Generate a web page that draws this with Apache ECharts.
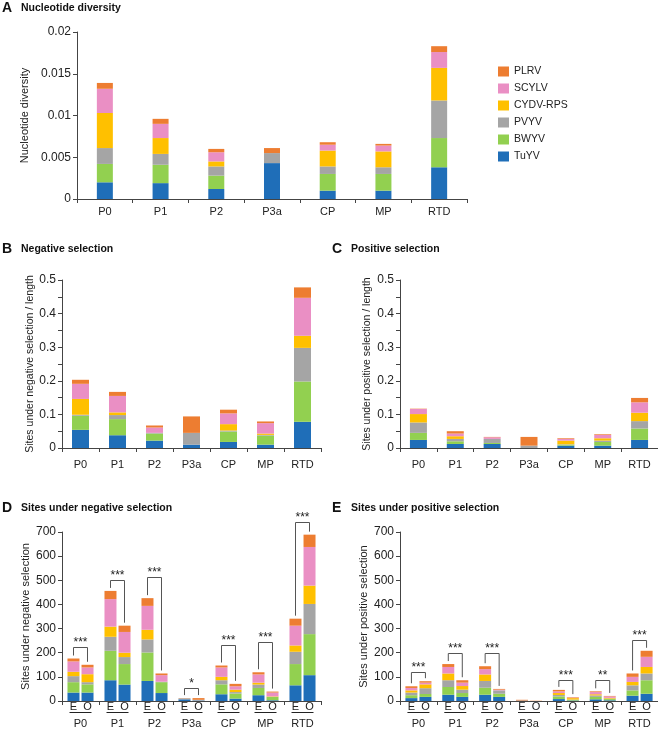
<!DOCTYPE html>
<html>
<head>
<meta charset="utf-8">
<script src="https://cdn.jsdelivr.net/npm/echarts@6/dist/echarts.min.js"></script>
<style>
  html, body { margin: 0; padding: 0; background: #fff; }
  #chart { width: 658px; height: 735px; }
</style>
</head>
<body>
<div id="chart"></div>
<script>
const cats = ['P0', 'P1', 'P2', 'P3a', 'CP', 'MP', 'RTD'];
const viruses = ['TuYV', 'BWYV', 'PVYV', 'CYDV-RPS', 'SCYLV', 'PLRV'];
const colors = ['#1f6eb8', '#92d050', '#a5a5a5', '#ffc000', '#ea8fc4', '#ed7d31'];

// every table below: one row per virus (same order as `viruses`), one column per gene
const diversity = [
  [0.0020, 0.0019, 0.0012, 0.0043, 0.0010, 0.0010, 0.0038],
  [0.0022, 0.0022, 0.0016, 0, 0.0020, 0.0020, 0.0035],
  [0.0019, 0.0013, 0.0011, 0.0012, 0.0009, 0.0008, 0.0045],
  [0.0042, 0.0019, 0.0006, 0, 0.0019, 0.0019, 0.0039],
  [0.0029, 0.0017, 0.0011, 0, 0.0007, 0.0007, 0.0019],
  [0.0007, 0.0006, 0.0004, 0.0006, 0.0003, 0.0002, 0.0007]
];
const negPerLength = [
  [0.054, 0.038, 0.022, 0.010, 0.018, 0.010, 0.078],
  [0.042, 0.048, 0.021, 0, 0.031, 0.027, 0.120],
  [0.003, 0.012, 0.002, 0.035, 0.003, 0.002, 0.100],
  [0.047, 0.008, 0, 0, 0.019, 0.004, 0.036],
  [0.045, 0.049, 0.016, 0, 0.032, 0.031, 0.113],
  [0.012, 0.012, 0.006, 0.049, 0.011, 0.005, 0.031]
];
const posPerLength = [
  [0.024, 0.012, 0.012, 0, 0.007, 0.007, 0.024],
  [0.021, 0.008, 0.003, 0, 0.003, 0.011, 0.034],
  [0.031, 0.007, 0.012, 0.007, 0.001, 0.004, 0.022],
  [0.025, 0.008, 0, 0, 0.011, 0.007, 0.025],
  [0.015, 0.008, 0.005, 0, 0.005, 0.010, 0.031],
  [0.001, 0.007, 0.001, 0.026, 0.002, 0.002, 0.013]
];
// E / O bars of panel D
const negSitesE = [
  [35, 86, 83, 7, 28, 24, 65],
  [43, 122, 118, 0, 41, 30, 88],
  [25, 58, 54, 4, 17, 14, 51],
  [18, 42, 40, 0, 14, 8, 26],
  [43, 114, 99, 0, 39, 34, 82],
  [12, 34, 32, 1, 8, 9, 29]
];
const negSitesO = [
  [35, 68, 33, 2, 10, 3, 107],
  [34, 85, 45, 0, 21, 14, 170],
  [9, 29, 2, 3, 6, 0, 125],
  [33, 18, 0, 0, 10, 2, 76],
  [28, 86, 27, 0, 14, 16, 160],
  [11, 26, 7, 7, 10, 4, 51]
];
// E / O bars of panel E
const posSitesE = [
  [12, 26, 26, 1, 8, 7, 22],
  [12, 32, 29, 0, 11, 10, 22],
  [11, 28, 28, 1, 6, 6, 21],
  [9, 28, 27, 0, 8, 5, 14],
  [10, 27, 22, 0, 7, 9, 21],
  [7, 12, 12, 3, 6, 3, 14]
];
const posSitesO = [
  [17, 17, 17, 0, 2, 3, 30],
  [12, 16, 13, 0, 3, 5, 56],
  [24, 14, 14, 0, 1, 2, 28],
  [16, 15, 0, 0, 6, 3, 27],
  [7, 14, 3, 0, 2, 6, 42],
  [6, 10, 3, 1, 2, 2, 25]
];
// significance brackets (height in axis units) and stars
const negBracket = [222, 502, 513, 55, 230, 244, 741];
const negStars = ['***', '***', '***', '*', '***', '***', '***'];
const posBracket = [122, 200, 200, null, 89, 89, 252];
const posStars = ['***', '***', '***', '', '***', '**', '***'];

const FONT = 'Liberation Sans, Arial, Helvetica, sans-serif';
const INK = '#222';
const AXIS = '#444';

const colSum = (rows, i) => rows.reduce((s, r) => s + r[i], 0);

const grids = [
  { left: 77, top: 32, width: 390, height: 167 },   // A
  { left: 62, top: 280, width: 259, height: 168 },  // B
  { left: 400, top: 280, width: 258, height: 168 }, // C
  { left: 62, top: 532, width: 259, height: 169 },  // D
  { left: 400, top: 532, width: 258, height: 169 }  // E
].map(g => Object.assign(g, { outerBoundsMode: 'none', containLabel: false }));

function xAxis(idx, margin) {
  return {
    type: 'category', gridIndex: idx, data: cats,
    axisLine: { lineStyle: { color: AXIS, width: 1 } },
    axisTick: { show: true, length: 4, lineStyle: { color: AXIS } },
    axisLabel: { color: INK, fontSize: 11, margin, fontFamily: FONT }
  };
}

function yAxis(idx, max, interval, name, nameGap, nameSize, minor) {
  return {
    type: 'value', gridIndex: idx, min: 0, max, interval,
    name, nameLocation: 'middle', nameGap,
    nameTextStyle: { color: INK, fontSize: nameSize, fontFamily: FONT },
    axisLine: { show: true, lineStyle: { color: AXIS, width: 1 } },
    axisTick: { show: true, length: 4, lineStyle: { color: AXIS } },
    minorTick: { show: minor, splitNumber: 2, length: 4, lineStyle: { color: AXIS } },
    splitLine: { show: false },
    axisLabel: { color: INK, fontSize: 12, margin: 6, fontFamily: FONT }
  };
}

function bars(rows, idx, stack, width, gap) {
  return rows.map((r, k) => ({
    name: viruses[k], type: 'bar', stack,
    xAxisIndex: idx, yAxisIndex: idx,
    data: r, barWidth: width, barGap: gap,
    itemStyle: { color: colors[k] }, silent: true
  }));
}

// E/O labels, underline and significance bracket for each gene
function pairMarks(idx, E, O, bracket, stars) {
  const dx = 7;
  return {
    type: 'custom', xAxisIndex: idx, yAxisIndex: idx, clip: false, silent: true, z: 10,
    data: cats.map((c, i) => [i, bracket[i] == null ? 0 : bracket[i]]),
    renderItem(params, api) {
      const i = api.value(0);
      const base = api.coord([i, 0]);
      const x = base[0], y0 = base[1];
      const kids = [
        { type: 'text', style: { text: 'E', x: x - dx, y: y0 + 6, align: 'center', verticalAlign: 'middle', font: '11px ' + FONT, fill: INK } },
        { type: 'text', style: { text: 'O', x: x + dx, y: y0 + 6, align: 'center', verticalAlign: 'middle', font: '11px ' + FONT, fill: INK } },
        { type: 'line', shape: { x1: x - 11, y1: y0 + 11.5, x2: x + 11, y2: y0 + 11.5 }, style: { stroke: INK, lineWidth: 1 } }
      ];
      if (bracket[i] != null) {
        const yb = Math.round(api.coord([i, bracket[i]])[1]) + 0.5;
        const ye = api.coord([i, colSum(E, i)])[1] - 3;
        const yo = api.coord([i, colSum(O, i)])[1] - 3;
        kids.push({ type: 'polyline', shape: { points: [[x - dx, ye], [x - dx, yb], [x + dx, yb], [x + dx, yo]] },
          style: { stroke: '#555', fill: null, lineWidth: 1 } });
        kids.push({ type: 'text', style: { text: stars[i], x, y: yb + 1, align: 'center', verticalAlign: 'bottom', font: '12px ' + FONT, fill: INK } });
      }
      return { type: 'group', children: kids };
    }
  };
}

function panelTitle(letter, text, x, y) {
  return [
    { type: 'text', x, y, style: { text: letter, font: 'bold 14px ' + FONT, fill: '#111', verticalAlign: 'middle' } },
    { type: 'text', x: x + 19, y, style: { text: text, font: 'bold 10.5px ' + FONT, fill: '#111', verticalAlign: 'middle' } }
  ];
}

const chart = echarts.init(document.getElementById('chart'), null, { renderer: 'canvas' });

chart.setOption({
  animation: false,
  backgroundColor: '#fff',
  textStyle: { fontFamily: FONT },
  grid: grids,
  xAxis: [xAxis(0, 7), xAxis(1, 11), xAxis(2, 11), xAxis(3, 17), xAxis(4, 17)],
  yAxis: [
    yAxis(0, 0.02, 0.005, 'Nucleotide diversity', 45, 11, false),
    yAxis(1, 0.5, 0.1, 'Sites under negative selection / length', 24, 10.5, true),
    yAxis(2, 0.5, 0.1, 'Sites under positive selection / length', 27, 10.5, true),
    yAxis(3, 700, 100, 'Sites under negative selection', 31, 11, false),
    yAxis(4, 700, 100, 'Sites under positive selection', 31, 11, false)
  ],
  legend: {
    data: viruses.slice().reverse(),
    orient: 'vertical', left: 498, top: 66, padding: 0,
    icon: 'rect', itemWidth: 11, itemHeight: 10, itemGap: 6,
    textStyle: { color: INK, fontSize: 10.5, fontFamily: FONT },
    selectedMode: false
  },
  graphic: [
    ...panelTitle('A', 'Nucleotide diversity', 2, 8),
    ...panelTitle('B', 'Negative selection', 2, 249),
    ...panelTitle('C', 'Positive selection', 332, 249),
    ...panelTitle('D', 'Sites under negative selection', 2, 508),
    ...panelTitle('E', 'Sites under positive selection', 332, 508)
  ],
  series: [
    ...bars(diversity, 0, 'div', 16),
    ...bars(negPerLength, 1, 'neg', 17),
    ...bars(posPerLength, 2, 'pos', 17),
    ...bars(negSitesE, 3, 'negE', 12, '17%'),
    ...bars(negSitesO, 3, 'negO', 12, '17%'),
    ...bars(posSitesE, 4, 'posE', 12, '17%'),
    ...bars(posSitesO, 4, 'posO', 12, '17%'),
    pairMarks(3, negSitesE, negSitesO, negBracket, negStars),
    pairMarks(4, posSitesE, posSitesO, posBracket, posStars)
  ]
});
</script>
</body>
</html>
